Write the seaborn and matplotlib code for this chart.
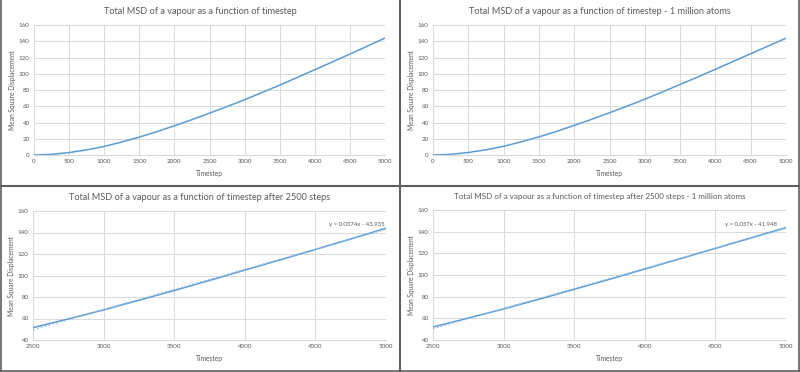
import numpy as np
import pandas as pd
import matplotlib
matplotlib.use("Agg")
import matplotlib.pyplot as plt
import seaborn as sns
from matplotlib.lines import Line2D

# MSD, every 250 timesteps
timestep = [0, 250, 500, 750, 1000, 1250, 1500, 1750, 2000, 2250, 2500,
            2750, 3000, 3250, 3500, 3750, 4000, 4250, 4500, 4750, 5000]
msd_vapour = [0, 0.8, 3.0, 6.3, 10.5, 16.0, 22.0, 28.7, 36.0, 43.5, 51.5,
              59.6, 68.0, 77.0, 86.0, 95.4, 105.0, 114.5, 124.2, 134.0, 144.0]
msd_vapour_1m = [0, 0.8, 3.1, 6.4, 10.7, 16.2, 22.3, 29.0, 36.4, 44.0, 52.0,
                 60.2, 68.7, 77.6, 86.8, 96.0, 105.5, 115.0, 124.6, 134.2, 143.8]

# trendline coefficients printed on the lower charts
fit_vapour = (0.0374, -43.935)
fit_vapour_1m = (0.037, -41.948)

titles = ["Total MSD of a vapour as a function of timestep",
          "Total MSD of a vapour as a function of timestep - 1 million atoms",
          "Total MSD of a vapour as a function of timestep after 2500 steps",
          "Total MSD of a vapour as a function of timestep after 2500 steps - 1 million atoms"]

sns.set_style("white")
plt.rcParams['font.family'] = ['Lato', 'DejaVu Sans']

blue = "#5b9bd5"
grey = "#595959"
grid = "#d9d9d9"

df = pd.DataFrame({"Timestep": timestep, "full": msd_vapour, "million": msd_vapour_1m})
late = df[df["Timestep"] >= 2500]

fig = plt.figure(figsize=(8, 3.72), dpi=100)
boxes = [[34/800, 1-155/372, 351/800, 130/372],
         [433/800, 1-155/372, 353/800, 130/372],
         [33/800, 1-340/372, 353/800, 129/372],
         [433/800, 1-340/372, 353/800, 130/372]]
axes = [fig.add_axes(b) for b in boxes]
title_pos = [(200, 12), (600, 12), (200, 198), (600, 197)]

for i, ax in enumerate(axes):
    col = "full" if i % 2 == 0 else "million"
    data = df if i < 2 else late
    sns.lineplot(data=data, x="Timestep", y=col, ax=ax, color=blue, lw=1.1)
    if i < 2:
        ax.set_xlim(0, 5000)
        ax.set_ylim(0, 160)
        ax.set_xticks(range(0, 5001, 500))
        ax.set_yticks(range(0, 161, 20))
    else:
        m, b = fit_vapour if i == 2 else fit_vapour_1m
        fx = np.array([2500, 5000])
        sns.lineplot(x=fx, y=m * fx + b, ax=ax, color="#8fbce6", lw=1.1, linestyle=":")
        ax.set_xlim(2500, 5000)
        ax.set_ylim(40, 160)
        ax.set_xticks(range(2500, 5001, 500))
        ax.set_yticks(range(40, 161, 20))
        ax.text(4790 if i == 2 else 4755, 147, f"y = {m}x - {abs(b)}",
                ha="center", va="center", fontsize=4.3, color=grey)
    ax.grid(True, color=grid, lw=0.7)
    for s in ["top", "right", "left"]:
        ax.spines[s].set_visible(False)
    ax.spines["bottom"].set_color(grid)
    ax.tick_params(length=0, labelsize=4.5, labelcolor=grey, pad=3)
    ax.set_xlabel("Timestep", fontsize=4.8, color=grey, labelpad=4)
    ax.set_ylabel("Mean Square Displacement", fontsize=4.8, color=grey, labelpad=2)
    tx, ty = title_pos[i]
    fig.text(tx / 800, 1 - ty / 372, titles[i], ha="center", va="center",
             fontsize=6.6 if i < 3 else 5.8, color=grey)

# frame lines round and between the four charts
edge = "#5f5f5f"
fig.add_artist(Line2D([399.5/800, 399.5/800], [0, 1], color=edge, lw=1.5))
fig.add_artist(Line2D([0, 1], [1-185.5/372, 1-185.5/372], color=edge, lw=1.5))
fig.add_artist(Line2D([0.8/800, 0.8/800], [0, 1], color=edge, lw=1.2))
fig.add_artist(Line2D([799/800, 799/800], [0, 1], color=edge, lw=1.2))
fig.add_artist(Line2D([0, 1], [1/372, 1/372], color=edge, lw=1.2))

fig.savefig("out.png", dpi=100)
